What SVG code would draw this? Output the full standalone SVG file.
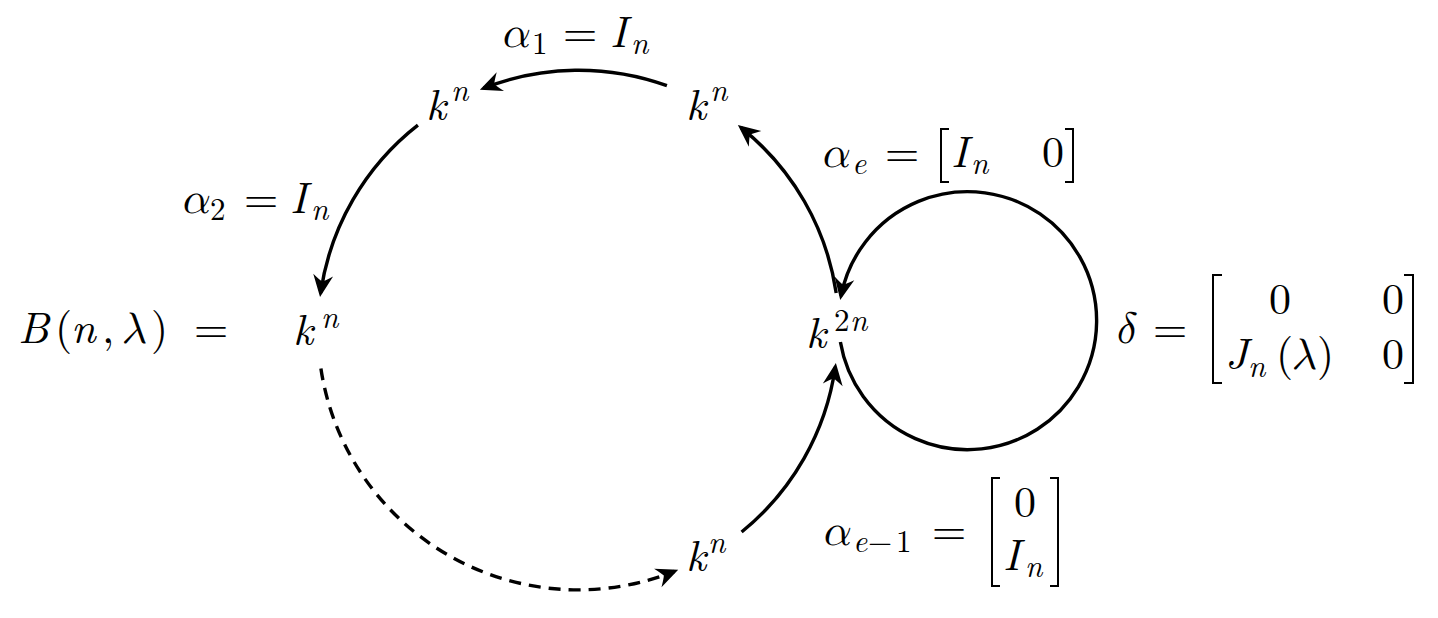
<svg xmlns="http://www.w3.org/2000/svg" width="1438" height="618" viewBox="0 0 1438 618">
<style>
.t{font-size:44px;fill:#000}
.i{font-style:italic}
.s{font-size:31px}
.e{fill:none;stroke:#000;stroke-width:3.4}
.d{stroke-dasharray:12 8}
.b{fill:none;stroke:#000;stroke-width:2}
</style>
<defs>
<marker id="arr" viewBox="-21 -12 26 24" markerWidth="26" markerHeight="24" markerUnits="userSpaceOnUse" orient="auto" refX="0" refY="0">
<path d="M4,0 L-18,-10 Q-12.5,-2.5 -11.5,0 Q-12.5,2.5 -18,10 Z" fill="#000"/>
</marker>
</defs>
<rect width="1438" height="618" fill="#fff"/>

<g id="connectors">
<path id="a1" class="e" marker-end="url(#arr)" d="M666.9,85.7 A260,260 0 0 0 483.6,88.2"/>
<path id="a2" class="e" marker-end="url(#arr)" d="M417.9,125.1 A260,260 0 0 0 320.6,293.0"/>
<path id="dash" class="e d" marker-end="url(#arr)" d="M320.9,368.4 A260,260 0 0 0 674.5,571.3"/>
<path id="ae1" class="e" marker-end="url(#arr)" d="M741.6,532.0 A260,260 0 0 0 835.3,367.0"/>
<path id="ae" class="e" marker-end="url(#arr)" d="M836.2,293.0 A260,260 0 0 0 741.0,127.6"/>
<path id="delta" class="e" marker-end="url(#arr)" d="M840.4,342 A129,129 0 1 0 841.0,296"/>
</g>

<g font-family="'Latin Modern Roman', 'Latin Modern Math', 'Liberation Serif', serif">
<g id="label-B">
<text class="t" y="343"><tspan class="i" x="18">B</tspan><tspan x="55">(</tspan><tspan class="i" x="71">n</tspan><tspan x="102">, </tspan><tspan class="i" x="121">λ</tspan><tspan x="151">) </tspan><tspan x="194">=</tspan></text>
</g>

<g id="node-left">
<text class="t i" x="293" y="345">k</text>
<text class="t i s" x="321" y="328">n</text>
</g>
<g id="node-topleft">
<text class="t i" x="426" y="120">k</text>
<text class="t i s" x="451" y="101">n</text>
</g>
<g id="node-topright">
<text class="t i" x="686" y="120">k</text>
<text class="t i s" x="710" y="101">n</text>
</g>
<g id="node-k2n">
<text class="t i" x="806" y="348">k</text>
<text class="t s" y="331"><tspan x="834">2</tspan><tspan class="i" x="850">n</tspan></text>
</g>
<g id="node-bottom">
<text class="t i" x="686" y="571">k</text>
<text class="t i s" x="708" y="553">n</text>
</g>

<g id="label-alpha1">
<text class="t i" x="500" y="47">α</text>
<text class="t s" x="532" y="54">1</text>
<text class="t" x="563" y="47">=</text>
<text class="t i" x="610" y="47">I</text>
<text class="t i s" x="631" y="54">n</text>
</g>

<g id="label-alpha2">
<text class="t i" x="180" y="213">α</text>
<text class="t s" x="210" y="220">2</text>
<text class="t" x="244" y="213">=</text>
<text class="t i" x="290" y="213">I</text>
<text class="t i s" x="311" y="220">n</text>
</g>

<g id="label-alphae">
<text class="t i" x="820" y="167">α</text>
<text class="t i s" x="852" y="174">e</text>
<text class="t" x="885" y="167">=</text>
<path class="b" d="M949,129 H941 V182 H949"/>
<text class="t i" x="951" y="167">I</text>
<text class="t i s" x="971" y="174">n</text>
<text class="t" x="1042" y="167">0</text>
<path class="b" d="M1065,129 H1073 V182 H1065"/>
</g>

<g id="label-delta">
<text class="t i" x="1114" y="343">δ</text>
<text class="t" x="1153" y="343">=</text>
<path class="b" d="M1222,275 H1213 V383 H1222"/>
<text class="t" x="1269" y="314">0</text>
<text class="t" x="1382" y="314">0</text>
<text class="t i" x="1225" y="369">J</text>
<text class="t i s" x="1248" y="377">n</text>
<text class="t" y="369"><tspan x="1276">(</tspan><tspan class="i" x="1291">λ</tspan><tspan x="1317">)</tspan></text>
<text class="t" x="1382" y="369">0</text>
<path class="b" d="M1404,275 H1413 V383 H1404"/>
</g>

<g id="label-alphae1">
<text class="t i" x="821" y="545">α</text>
<text class="t s" y="552"><tspan class="i" x="853">e</tspan><tspan x="868">−</tspan><tspan x="896">1</tspan></text>
<text class="t" x="932" y="545">=</text>
<path class="b" d="M1000,478 H992 V586 H1000"/>
<text class="t" x="1014" y="517">0</text>
<text class="t i" x="1003" y="570">I</text>
<text class="t i s" x="1025" y="577">n</text>
<path class="b" d="M1050,478 H1058 V586 H1050"/>
</g>
</g>
</svg>
